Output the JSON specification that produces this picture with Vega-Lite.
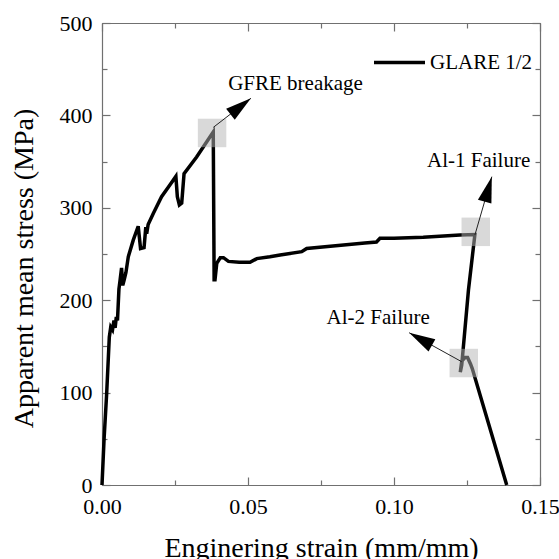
{
  "$schema": "https://vega.github.io/schema/vega-lite/v6.json",
  "width": 438,
  "height": 462,
  "autosize": {"type": "none"},
  "padding": {"left": 102, "top": 23, "right": 19, "bottom": 74},
  "background": "white",
  "config": {
    "font": "Liberation Serif",
    "view": {"stroke": "#707070", "strokeWidth": 1},
    "axis": {"domainColor": "#707070", "domainWidth": 1.2, "grid": false, "tickColor": "#707070", "tickWidth": 1.2, "zindex": 1}
  },
  "datasets": {
    "curve": [
      {"i": 0, "strain": 0, "stress": 0, "series": "GLARE 1/2"},
      {"i": 1, "strain": 0.0007, "stress": 49, "series": "GLARE 1/2"},
      {"i": 2, "strain": 0.0016, "stress": 99, "series": "GLARE 1/2"},
      {"i": 3, "strain": 0.0025, "stress": 160, "series": "GLARE 1/2"},
      {"i": 4, "strain": 0.003, "stress": 171, "series": "GLARE 1/2"},
      {"i": 5, "strain": 0.0036, "stress": 168, "series": "GLARE 1/2"},
      {"i": 6, "strain": 0.0041, "stress": 178, "series": "GLARE 1/2"},
      {"i": 7, "strain": 0.0045, "stress": 170, "series": "GLARE 1/2"},
      {"i": 8, "strain": 0.0049, "stress": 182, "series": "GLARE 1/2"},
      {"i": 9, "strain": 0.0053, "stress": 178, "series": "GLARE 1/2"},
      {"i": 10, "strain": 0.0058, "stress": 212, "series": "GLARE 1/2"},
      {"i": 11, "strain": 0.0062, "stress": 222, "series": "GLARE 1/2"},
      {"i": 12, "strain": 0.0067, "stress": 235, "series": "GLARE 1/2"},
      {"i": 13, "strain": 0.0071, "stress": 216, "series": "GLARE 1/2"},
      {"i": 14, "strain": 0.0076, "stress": 222, "series": "GLARE 1/2"},
      {"i": 15, "strain": 0.0082, "stress": 230, "series": "GLARE 1/2"},
      {"i": 16, "strain": 0.009, "stress": 247, "series": "GLARE 1/2"},
      {"i": 17, "strain": 0.0107, "stress": 265, "series": "GLARE 1/2"},
      {"i": 18, "strain": 0.0124, "stress": 280, "series": "GLARE 1/2"},
      {"i": 19, "strain": 0.0132, "stress": 256, "series": "GLARE 1/2"},
      {"i": 20, "strain": 0.0144, "stress": 257, "series": "GLARE 1/2"},
      {"i": 21, "strain": 0.015, "stress": 279, "series": "GLARE 1/2"},
      {"i": 22, "strain": 0.0153, "stress": 272, "series": "GLARE 1/2"},
      {"i": 23, "strain": 0.0158, "stress": 282, "series": "GLARE 1/2"},
      {"i": 24, "strain": 0.0176, "stress": 294, "series": "GLARE 1/2"},
      {"i": 25, "strain": 0.0204, "stress": 312, "series": "GLARE 1/2"},
      {"i": 26, "strain": 0.0233, "stress": 325, "series": "GLARE 1/2"},
      {"i": 27, "strain": 0.0253, "stress": 334, "series": "GLARE 1/2"},
      {"i": 28, "strain": 0.0258, "stress": 312, "series": "GLARE 1/2"},
      {"i": 29, "strain": 0.0265, "stress": 303, "series": "GLARE 1/2"},
      {"i": 30, "strain": 0.0273, "stress": 305, "series": "GLARE 1/2"},
      {"i": 31, "strain": 0.0281, "stress": 337, "series": "GLARE 1/2"},
      {"i": 32, "strain": 0.0324, "stress": 355, "series": "GLARE 1/2"},
      {"i": 33, "strain": 0.0381, "stress": 382, "series": "GLARE 1/2"},
      {"i": 34, "strain": 0.0384, "stress": 222, "series": "GLARE 1/2"},
      {"i": 35, "strain": 0.0387, "stress": 222, "series": "GLARE 1/2"},
      {"i": 36, "strain": 0.0393, "stress": 240, "series": "GLARE 1/2"},
      {"i": 37, "strain": 0.0405, "stress": 246, "series": "GLARE 1/2"},
      {"i": 38, "strain": 0.0416, "stress": 246, "series": "GLARE 1/2"},
      {"i": 39, "strain": 0.0433, "stress": 242, "series": "GLARE 1/2"},
      {"i": 40, "strain": 0.047, "stress": 241, "series": "GLARE 1/2"},
      {"i": 41, "strain": 0.0507, "stress": 241, "series": "GLARE 1/2"},
      {"i": 42, "strain": 0.053, "stress": 245, "series": "GLARE 1/2"},
      {"i": 43, "strain": 0.0575, "stress": 247, "series": "GLARE 1/2"},
      {"i": 44, "strain": 0.061, "stress": 249, "series": "GLARE 1/2"},
      {"i": 45, "strain": 0.0684, "stress": 252.5, "series": "GLARE 1/2"},
      {"i": 46, "strain": 0.0701, "stress": 256, "series": "GLARE 1/2"},
      {"i": 47, "strain": 0.08, "stress": 259, "series": "GLARE 1/2"},
      {"i": 48, "strain": 0.09, "stress": 262, "series": "GLARE 1/2"},
      {"i": 49, "strain": 0.094, "stress": 263, "series": "GLARE 1/2"},
      {"i": 50, "strain": 0.0952, "stress": 267, "series": "GLARE 1/2"},
      {"i": 51, "strain": 0.1, "stress": 267, "series": "GLARE 1/2"},
      {"i": 52, "strain": 0.11, "stress": 268, "series": "GLARE 1/2"},
      {"i": 53, "strain": 0.1226, "stress": 270.5, "series": "GLARE 1/2"},
      {"i": 54, "strain": 0.1277, "stress": 271, "series": "GLARE 1/2"},
      {"i": 55, "strain": 0.1255, "stress": 211, "series": "GLARE 1/2"},
      {"i": 56, "strain": 0.1232, "stress": 130, "series": "GLARE 1/2"},
      {"i": 57, "strain": 0.1227, "stress": 122, "series": "GLARE 1/2"},
      {"i": 58, "strain": 0.1232, "stress": 134, "series": "GLARE 1/2"},
      {"i": 59, "strain": 0.1243, "stress": 138, "series": "GLARE 1/2"},
      {"i": 60, "strain": 0.1252, "stress": 138, "series": "GLARE 1/2"},
      {"i": 61, "strain": 0.1262, "stress": 131, "series": "GLARE 1/2"},
      {"i": 62, "strain": 0.1268, "stress": 126, "series": "GLARE 1/2"},
      {"i": 63, "strain": 0.1386, "stress": 0, "series": "GLARE 1/2"}
    ],
    "boxes": [
      {"strain": 0.0377, "stress": 381},
      {"strain": 0.128, "stress": 274},
      {"strain": 0.1239, "stress": 132}
    ],
    "arrows": [
      {"name": "GFRE", "strain": 0.0381, "stress": 387, "strain2": 0.051, "stress2": 418.5},
      {"name": "Al-1", "strain": 0.1277, "stress": 270.5, "strain2": 0.1335, "stress2": 333.7},
      {"name": "Al-2", "strain": 0.1232, "stress": 133.4, "strain2": 0.1052, "stress2": 164.8}
    ],
    "labels": [
      {"text": "GFRE breakage", "strain": 0.0432, "stress": 427.5},
      {"text": "Al-1 Failure", "strain": 0.1113, "stress": 344.5},
      {"text": "Al-2 Failure", "strain": 0.0769, "stress": 174}
    ]
  },
  "resolve": {"axis": {"x": "independent", "y": "independent"}},
  "layer": [
    {
      "data": {"name": "curve"},
      "mark": {"type": "line", "strokeWidth": 3.5},
      "encoding": {
        "x": {
          "field": "strain", "type": "quantitative",
          "scale": {"domain": [0, 0.15], "nice": false, "zero": false},
          "axis": {
            "orient": "bottom",
            "values": [0, 0.025, 0.05, 0.075, 0.1, 0.125, 0.15],
            "labelExpr": "abs(datum.value*20 - round(datum.value*20)) < 0.001 ? format(datum.value, '.2f') : ''",
            "tickSize": {"condition": {"test": "abs(datum.value*20 - round(datum.value*20)) < 0.001", "value": -8}, "value": -5},
            "labelPadding": 19,
            "labelFontSize": 22,
            "labelColor": "black",
            "labelFlush": false,
            "title": "Enginering strain (mm/mm)",
            "titleFontSize": 28,
            "titleFontWeight": "normal",
            "titleColor": "black",
            "titleBaseline": "alphabetic",
            "titleY": 71
          }
        },
        "y": {
          "field": "stress", "type": "quantitative",
          "scale": {"domain": [0, 500], "nice": false},
          "axis": {
            "orient": "left",
            "values": [0, 50, 100, 150, 200, 250, 300, 350, 400, 450, 500],
            "labelExpr": "datum.value % 100 === 0 ? datum.label : ''",
            "tickSize": {"condition": {"test": "datum.value % 100 === 0", "value": -8}, "value": -5},
            "labelPadding": 18,
            "labelFontSize": 22,
            "labelColor": "black",
            "labelFlush": false,
            "title": "Apparent mean stress (MPa)",
            "titleFontSize": 28,
            "titleFontWeight": "normal",
            "titleColor": "black",
            "titleBaseline": "alphabetic",
            "titleX": -70,
            "titleY": 245
          }
        },
        "order": {"field": "i", "type": "quantitative"},
        "color": {
          "field": "series", "type": "nominal",
          "scale": {"range": ["black"]},
          "legend": {
            "title": null, "orient": "none", "legendX": 270, "legendY": 12,
            "symbolType": "stroke", "symbolSize": 2601, "symbolStrokeWidth": 3.5,
            "labelFontSize": 21, "labelFont": "Liberation Serif", "labelColor": "black",
            "labelOffset": 3, "padding": 0, "labelLimit": 300
          }
        }
      }
    },
    {
      "data": {"name": "boxes"},
      "mark": {"type": "point", "shape": "square", "filled": true, "color": "#b3b3b3", "opacity": 0.5, "size": 810},
      "encoding": {
        "x": {
          "field": "strain", "type": "quantitative",
          "axis": {
            "orient": "top",
            "values": [0, 0.025, 0.05, 0.075, 0.1, 0.125, 0.15],
            "labels": false, "title": null,
            "tickSize": {"condition": {"test": "abs(datum.value*20 - round(datum.value*20)) < 0.001", "value": -8}, "value": -5}
          }
        },
        "y": {
          "field": "stress", "type": "quantitative",
          "axis": {
            "orient": "right",
            "values": [0, 50, 100, 150, 200, 250, 300, 350, 400, 450, 500],
            "labels": false, "title": null,
            "tickSize": {"condition": {"test": "datum.value % 100 === 0", "value": -8}, "value": -5}
          }
        }
      }
    },
    {
      "data": {"name": "arrows"},
      "mark": {"type": "rule", "strokeWidth": 1, "color": "#222222"},
      "encoding": {
        "x": {"field": "strain", "type": "quantitative", "axis": null},
        "y": {"field": "stress", "type": "quantitative", "axis": null},
        "x2": {"field": "strain2"},
        "y2": {"field": "stress2"}
      }
    },
    {
      "data": {"name": "arrows"},
      "transform": [{"filter": "datum.name === 'GFRE'"}],
      "mark": {"type": "point", "shape": "M0,0L0.27,1L-0.27,1Z", "filled": true, "color": "black", "opacity": 1, "size": 2704, "angle": 52},
      "encoding": {
        "x": {"field": "strain2", "type": "quantitative", "axis": null},
        "y": {"field": "stress2", "type": "quantitative", "axis": null}
      }
    },
    {
      "data": {"name": "arrows"},
      "transform": [{"filter": "datum.name === 'Al-1'"}],
      "mark": {"type": "point", "shape": "M0,0L0.27,1L-0.27,1Z", "filled": true, "color": "black", "opacity": 1, "size": 2704, "angle": 16},
      "encoding": {
        "x": {"field": "strain2", "type": "quantitative", "axis": null},
        "y": {"field": "stress2", "type": "quantitative", "axis": null}
      }
    },
    {
      "data": {"name": "arrows"},
      "transform": [{"filter": "datum.name === 'Al-2'"}],
      "mark": {"type": "point", "shape": "M0,0L0.27,1L-0.27,1Z", "filled": true, "color": "black", "opacity": 1, "size": 2704, "angle": 299},
      "encoding": {
        "x": {"field": "strain2", "type": "quantitative", "axis": null},
        "y": {"field": "stress2", "type": "quantitative", "axis": null}
      }
    },
    {
      "data": {"name": "labels"},
      "mark": {"type": "text", "align": "left", "baseline": "alphabetic", "fontSize": 21, "font": "Liberation Serif", "color": "black"},
      "encoding": {
        "x": {"field": "strain", "type": "quantitative", "axis": null},
        "y": {"field": "stress", "type": "quantitative", "axis": null},
        "text": {"field": "text"}
      }
    }
  ]
}
